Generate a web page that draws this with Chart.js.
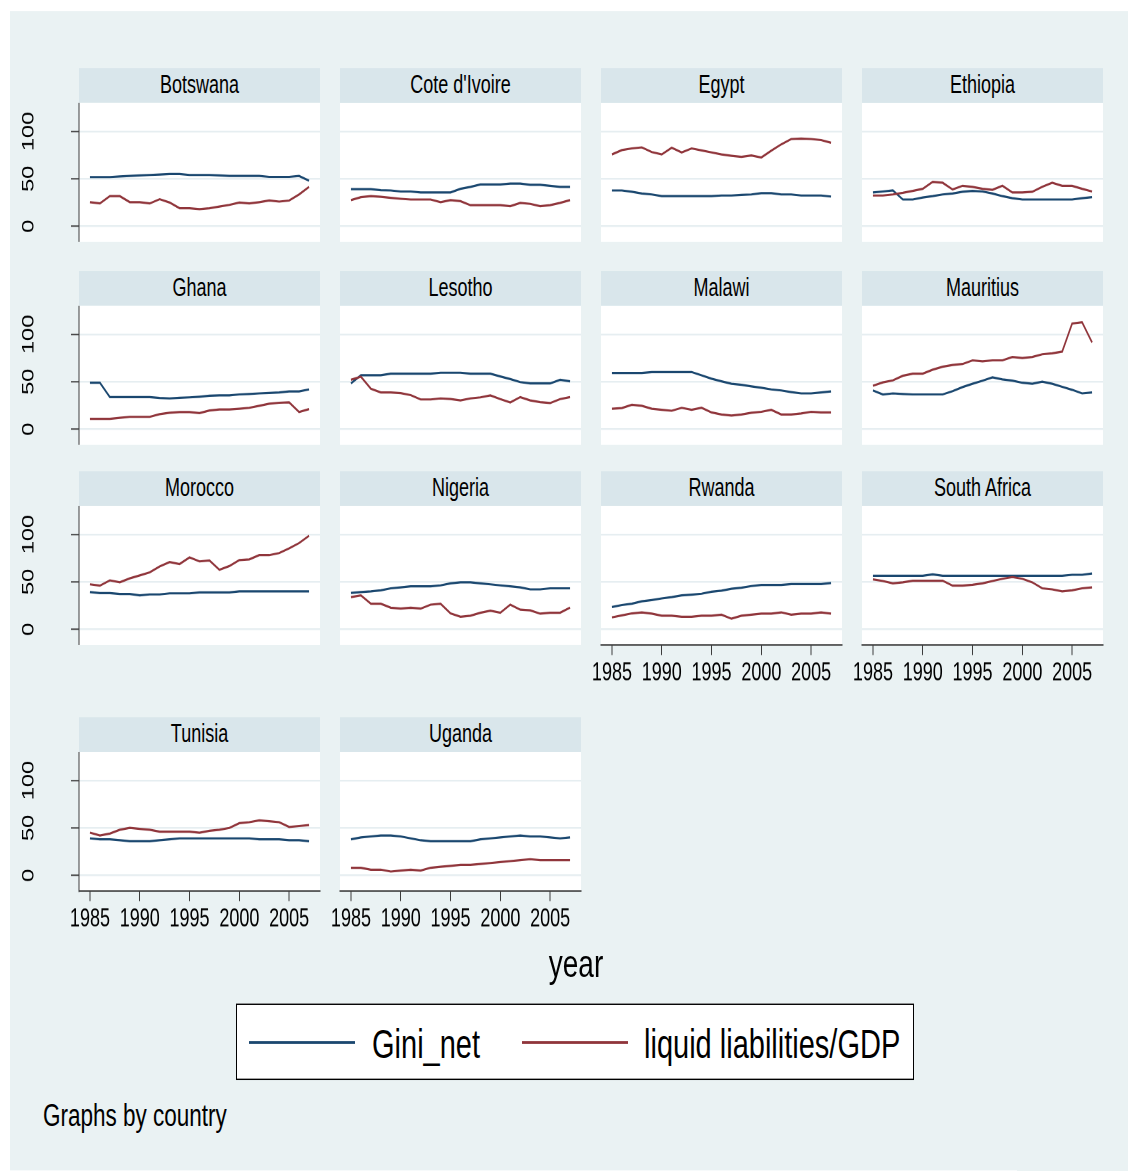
<!DOCTYPE html>
<html>
<head>
<meta charset="utf-8">
<script src="https://cdn.jsdelivr.net/npm/chart.js@4.4.1/dist/chart.umd.min.js"></script>
<style>
  html, body { margin: 0; padding: 0; background: #ffffff; }
  body { width: 1128px; height: 1171px; overflow: hidden; position: relative;
         font-family: "Liberation Sans", Arial, sans-serif; }
  #stage { position: absolute; left: 0; top: 0; width: 1128px; transform-origin: 0 0; }
  .abs { position: absolute; box-sizing: border-box; }
  .bg { background: #EAF2F3; }
  .strip { background: #D9E6EB; color: #000; font-size: 18px; text-align: center; white-space: nowrap; }
  .plot { background: #ffffff; }
  .legend { background: #ffffff; border: 1.5px solid #000; }
  .txt { color: #000; white-space: nowrap; }
  canvas { position: absolute; }
</style>
</head>
<body>
<div id="stage"></div>
<script>
// ---- data -------------------------------------------------------------
const years = [1985, 1986, 1987, 1988, 1989, 1990, 1991, 1992, 1993, 1994, 1995, 1996,
               1997, 1998, 1999, 2000, 2001, 2002, 2003, 2004, 2005, 2006, 2007];
const xTicks = [1985, 1990, 1995, 2000, 2005];
const yTicks = [0, 50, 100];
const seriesNames = ['Gini_net', 'liquid liabilities/GDP'];

const botswanaGini   = [51.8,51.8,51.8,52.5,53,53.5,54,54.5,55,55,54,54,54,53.5,53,53,53,53,52,52,52,53,48];
const botswanaLiquid = [25.4,24,31.7,31.7,25.4,25.4,24,28.5,25,19,19,18,19,20.8,22.5,25,24,25.4,27.1,26,27.1,33.5,41.5];

const coteGini   = [39.1,39.1,39.1,38,37.7,36.6,36.6,35.6,35.6,35.6,35.6,39.4,41.5,44,44,44,45,45,43.7,43.7,42.6,41.5,41.5];
const coteLiquid = [27.5,30.6,31.7,31,29.9,28.9,28.2,28.2,28.2,25.4,27.5,26.4,22.2,22.2,22.2,22.2,21.1,24.6,23.6,21.1,22.2,24.6,27.5];

const egyptGini   = [37.7,37.7,36.3,34.5,33.5,31.7,31.7,31.7,31.7,31.7,31.7,32.4,32.4,33.1,33.5,34.9,34.9,33.5,33.5,32.4,32.4,32.4,31.3];
const egyptLiquid = [75.7,80.3,82,83.1,78.2,75.7,82.7,77.8,82,79.9,77.8,75.7,74.3,73.2,74.6,72.5,79.6,86.3,91.9,92.3,91.9,90.8,88];

const ethiopiaGini   = [35.6,36.6,37.7,28.2,28.2,30.3,31.7,33.5,34.5,36.3,37.3,36.6,34.5,31.7,29.6,28.2,28.2,28.2,28.2,28.2,28.2,29.6,30.6];
const ethiopiaLiquid = [32.4,32.4,33.5,35.2,37.3,39.4,46.8,45.8,38.7,42.6,41.5,39.4,38.4,42.6,35.6,35.6,36.3,41.5,45.8,42.6,42.6,39.4,36.6];

const ghanaGini   = [48.9,48.9,33.8,33.8,33.8,33.8,33.8,32.8,32.4,33.1,33.5,34.2,35.2,35.6,35.6,36.6,37,37.7,38.2,38.7,39.8,39.8,41.9];
const ghanaLiquid = [10.9,10.9,10.9,12,13,13,13,15.8,17.3,18,18,16.9,19.7,20.8,20.8,21.5,22.5,24.6,26.8,27.8,28.2,18,21.1];

const lesothoGini   = [48.2,56.9,56.9,56.9,58.5,58.5,58.5,58.5,58.5,59.5,59.5,59.5,58.5,58.5,58.5,55.6,52.8,49.6,48.2,48.2,48.2,52.1,50.4];
const lesothoLiquid = [52.1,55.3,42.6,38.7,38.7,38,35.9,31.3,31.3,32.4,31.7,30.3,32.4,33.5,35.6,31.7,28.2,33.8,30.3,28.5,27.5,31.7,33.8];

const malawiGini   = [59.2,59.2,59.2,59.2,60.2,60.2,60.2,60.2,60.2,56.7,53.2,50.4,47.9,46.8,45.1,43.7,41.9,40.8,39.1,37.7,37.7,38.7,39.8];
const malawiLiquid = [21.5,22.2,25.7,24.6,21.5,20.4,19.4,22.5,20.4,22.5,17.6,15.5,14.4,15.5,17.3,18.3,20.4,15.5,15.5,16.5,18.3,17.6,17.6];

const mauritiusGini   = [40.8,36.6,37.7,37,36.6,36.6,36.6,36.6,40.1,44.4,47.9,51.1,54.6,52.5,51.1,48.9,47.9,50,47.9,44.7,41.5,37.7,38.7];
const mauritiusLiquid = [45.8,49.3,51.4,56.3,58.5,58.5,62.7,65.8,67.6,68.7,72.5,71.5,72.5,72.5,76.1,75,76.1,78.9,79.9,81.7,111.3,112.7,91.5];

const moroccoGini   = [39.3,38.2,38.2,37.2,37.2,35.8,36.8,36.8,37.9,37.9,37.9,38.9,38.9,38.9,38.9,40,40,40,40,40,40,40,40];
const moroccoLiquid = [47.4,46,51.6,49.5,53.7,56.8,60,66.3,70.9,68.8,75.8,71.6,72.6,62.8,66.7,73,73.7,78.2,78.2,80.4,85.3,90.9,98.6];

const nigeriaGini   = [38.3,39.3,40,41.1,43.2,44.2,45.3,45.3,45.3,46.3,48.4,49.5,49.5,48.4,47.4,46.3,45.3,44.2,42.1,42.1,43.2,43.2,43.2];
const nigeriaLiquid = [34,35.8,27,27,22.8,21.8,22.8,21.8,26,27,16.8,13.3,14.4,17.5,19.6,17.5,26,20.7,20,16.5,17.5,17.5,22.8];

const rwandaGini   = [23.5,25.6,27,29.5,30.9,32.6,34,35.8,36.5,37.5,39.6,40.7,42.8,43.9,45.6,46.7,46.7,46.7,47.7,47.7,47.7,47.7,48.8];
const rwandaLiquid = [12.6,14.7,16.8,17.9,16.5,14.4,14.4,13.3,13.3,14.4,14.4,15.4,11.2,14.4,15.4,16.5,16.5,17.9,15.4,16.5,16.5,17.9,16.5];

const southAfricaGini   = [56.5,56.5,56.5,56.5,56.5,56.5,57.9,56.5,56.5,56.5,56.5,56.5,56.5,56.5,56.5,56.5,56.5,56.5,56.5,56.5,57.5,57.5,58.9];
const southAfricaLiquid = [52.6,50.9,48.4,49.5,51.2,51.2,51.2,51.2,46,46,47,48.4,50.9,53.3,55.1,53.3,49.5,43.2,42.1,40,41.1,43.2,44.2];

const tunisiaGini   = [39,38,38,37,36,36,36,37,38,39,39,39,39,39,39,39,39,38,38,38,37,37,36];
const tunisiaLiquid = [45,42,44,48,50,49,48,46,46,46,46,45,47,48,50,55,56,58,57,56,51,52,53];

const ugandaGini   = [38,40,41,42,42,41,39,37,36,36,36,36,36,38,39,40,41,42,41,41,40,39,40];
const ugandaLiquid = [8,8,6,6,4,5,6,5,8,9,10,11,11,12,13,14,15,16,17,16,16,16,16];

// ---- panel grid ---------------------------------------------------------
const panels = [
  { name: 'Botswana',      gini: botswanaGini,    liquid: botswanaLiquid,    row: 0, col: 0, xAxis: false },
  { name: "Cote d'Ivoire", gini: coteGini,        liquid: coteLiquid,        row: 0, col: 1, xAxis: false },
  { name: 'Egypt',         gini: egyptGini,       liquid: egyptLiquid,       row: 0, col: 2, xAxis: false },
  { name: 'Ethiopia',      gini: ethiopiaGini,    liquid: ethiopiaLiquid,    row: 0, col: 3, xAxis: false },
  { name: 'Ghana',         gini: ghanaGini,       liquid: ghanaLiquid,       row: 1, col: 0, xAxis: false },
  { name: 'Lesotho',       gini: lesothoGini,     liquid: lesothoLiquid,     row: 1, col: 1, xAxis: false },
  { name: 'Malawi',        gini: malawiGini,      liquid: malawiLiquid,      row: 1, col: 2, xAxis: false },
  { name: 'Mauritius',     gini: mauritiusGini,   liquid: mauritiusLiquid,   row: 1, col: 3, xAxis: false },
  { name: 'Morocco',       gini: moroccoGini,     liquid: moroccoLiquid,     row: 2, col: 0, xAxis: false },
  { name: 'Nigeria',       gini: nigeriaGini,     liquid: nigeriaLiquid,     row: 2, col: 1, xAxis: false },
  { name: 'Rwanda',        gini: rwandaGini,      liquid: rwandaLiquid,      row: 2, col: 2, xAxis: true },
  { name: 'South Africa',  gini: southAfricaGini, liquid: southAfricaLiquid, row: 2, col: 3, xAxis: true },
  { name: 'Tunisia',       gini: tunisiaGini,     liquid: tunisiaLiquid,     row: 3, col: 0, xAxis: true },
  { name: 'Uganda',        gini: ugandaGini,      liquid: ugandaLiquid,      row: 3, col: 1, xAxis: true }
];

// ---- styling ------------------------------------------------------------
const GINI_COLOR = '#1A476F';
const LIQUID_COLOR = '#90353B';
const GRID_COLOR = '#E6EEF1';
const AXIS_COLOR = '#3c3c3c';
const FONT = '"Liberation Sans", Arial, sans-serif';
const X_MIN = 1983.9, X_MAX = 2008.1;
const Y_MIN = -16.5, Y_MAX = 130;

// The figure is laid out in a compressed frame and stretched vertically.
const S = 1.39;
const colLeft = [79, 340, 601, 862];
const rowTop = [67.5, 270.5, 471.5, 717.5];
const STRIP_H = 35, PLOT_W = 241, PLOT_H = 139;
const EDGE_ROOM = 20;   // canvas room left of inner panels so tick labels are not cut

const stage = document.getElementById('stage');
stage.style.height = (1171 / S) + 'px';
stage.style.transform = 'scaleY(' + S + ')';

function box(cls, x, y, w, h, text) {
  const el = document.createElement('div');
  el.className = 'abs ' + cls;
  el.style.left = x + 'px';
  el.style.top = (y / S) + 'px';
  el.style.width = w + 'px';
  el.style.height = (h / S) + 'px';
  if (text != null) el.textContent = text;
  stage.appendChild(el);
  return el;
}

function label(text, x, yCenter, size, align) {
  const el = document.createElement('div');
  el.className = 'abs txt';
  const lh = size * 1.2;
  el.style.fontSize = size + 'px';
  el.style.lineHeight = lh + 'px';
  el.style.top = (yCenter / S - lh / 2) + 'px';
  if (align === 'center') {
    el.style.left = (x - 300) + 'px';
    el.style.width = '600px';
    el.style.textAlign = 'center';
  } else {
    el.style.left = x + 'px';
  }
  el.textContent = text;
  stage.appendChild(el);
  return el;
}

// Scales keep the plot area fixed: no extra room for overhanging tick labels.
function noScalePadding(ax) {
  ax.paddingTop = 0;
  ax.paddingBottom = 0;
  ax.paddingLeft = 0;
  ax.paddingRight = 0;
}

// outer graph region
box('bg', 10, 11, 1118, 1159);

function makePanel(p) {
  const left = colLeft[p.col];
  const top = rowTop[p.row];
  const strip = box('strip', left, top, PLOT_W, STRIP_H, p.name);
  strip.style.lineHeight = (STRIP_H / S) + 'px';
  box('plot', left, top + STRIP_H, PLOT_W, PLOT_H);

  const showY = p.col === 0;
  const padL = showY ? left : EDGE_ROOM;
  const padR = EDGE_ROOM;
  const padB = p.xAxis ? 40 : 0;
  const cv = document.createElement('canvas');
  cv.width = PLOT_W + padL + padR;
  cv.height = Math.round(PLOT_H / S) + padB;
  cv.style.left = (left - padL) + 'px';
  cv.style.top = ((top + STRIP_H) / S) + 'px';
  stage.appendChild(cv);

  const toPoints = vals => years.map((yr, i) => ({ x: yr, y: vals[i] }));

  new Chart(cv, {
    type: 'line',
    data: {
      datasets: [
        { label: seriesNames[0], data: toPoints(p.gini), borderColor: GINI_COLOR,
          borderWidth: 1.6, pointRadius: 0, tension: 0, fill: false, order: 1 },
        { label: seriesNames[1], data: toPoints(p.liquid), borderColor: LIQUID_COLOR,
          borderWidth: 1.6, pointRadius: 0, tension: 0, fill: false, order: 0 }
      ]
    },
    options: {
      responsive: false,
      animation: false,
      devicePixelRatio: 2,
      events: [],
      layout: { padding: { left: 0, top: 0, bottom: 0, right: padR }, autoPadding: false },
      plugins: { legend: { display: false }, tooltip: { enabled: false } },
      scales: {
        x: {
          type: 'linear', min: X_MIN, max: X_MAX, display: p.xAxis,
          afterBuildTicks: ax => { ax.ticks = xTicks.map(v => ({ value: v })); },
          afterFit: ax => { ax.height = padB; noScalePadding(ax); },
          grid: { drawOnChartArea: false, drawTicks: true, tickLength: 7.2,
                  tickColor: AXIS_COLOR, tickWidth: 1 },
          border: { display: true, color: AXIS_COLOR, width: 1 },
          ticks: { padding: 2.5, color: '#000', autoSkip: false, maxRotation: 0, minRotation: 0,
                   font: { family: FONT, size: 18 }, callback: v => String(v) }
        },
        y: {
          type: 'linear', min: Y_MIN, max: Y_MAX, display: true,
          afterBuildTicks: ax => { ax.ticks = yTicks.map(v => ({ value: v })); },
          afterFit: ax => { ax.width = padL; noScalePadding(ax); },
          grid: { color: GRID_COLOR, lineWidth: 1.3, drawTicks: showY, tickLength: 8,
                  tickColor: AXIS_COLOR, tickWidth: 1 },
          border: { display: showY, color: AXIS_COLOR, width: 1 },
          ticks: { display: showY, padding: 28, minRotation: 90, maxRotation: 90,
                   crossAlign: 'center', color: '#000',
                   font: { family: FONT, size: 17 }, callback: v => String(v) }
        }
      }
    }
  });
}

panels.forEach(makePanel);

// x axis title
label('year', 576, 964, 28, 'center');

// legend
box('legend', 236, 1003, 678, 77);
box('', 249, 1040.5, 106, 3).style.background = GINI_COLOR;
label(seriesNames[0], 372, 1044, 29, 'left');
box('', 522, 1040.5, 106, 3).style.background = LIQUID_COLOR;
label(seriesNames[1], 644, 1044, 29, 'left');

// note
label('Graphs by country', 43, 1116, 22.5, 'left');
</script>
</body>
</html>
